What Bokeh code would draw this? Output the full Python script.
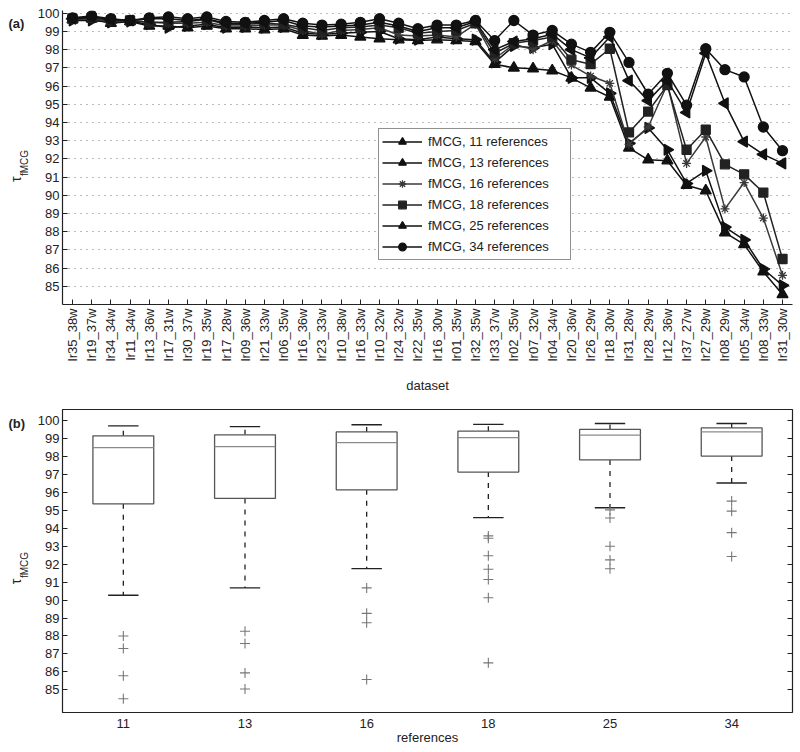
import math
from bokeh.plotting import figure
from bokeh.models import (FixedTicker, Label, Legend, LegendItem, LinearAxis,
                          Range1d, ColumnDataSource)
from bokeh.layouts import column, row
from bokeh.embed import file_html
from bokeh.resources import INLINE

# ---------------- data ----------------
datasets = ["lr35_38w", "lr19_37w", "lr34_34w", "lr11_34w", "lr13_36w", "lr17_31w",
            "lr30_37w", "lr19_35w", "lr17_28w", "lr09_36w", "lr21_33w", "lr06_35w",
            "lr16_36w", "lr23_33w", "lr10_38w", "lr16_33w", "lr10_32w", "lr24_32w",
            "lr22_35w", "lr16_30w", "lr01_35w", "lr32_35w", "lr33_37w", "lr02_35w",
            "lr07_32w", "lr04_34w", "lr20_36w", "lr26_29w", "lr18_30w", "lr31_28w",
            "lr28_29w", "lr12_36w", "lr37_27w", "lr27_29w", "lr08_29w", "lr05_34w",
            "lr08_33w", "lr31_30w"]

ref11 = [99.65, 99.7, 99.45, 99.55, 99.3, 99.3, 99.2, 99.3, 99.15, 99.15, 99.1, 99.15,
         98.8, 98.75, 98.8, 98.7, 98.6, 98.55, 98.5, 98.55, 98.5, 98.45, 97.2, 97.0,
         96.95, 96.85, 96.45, 95.9, 95.4, 92.6, 91.95, 91.9, 90.55, 90.25, 87.95, 87.3,
         85.8, 84.55]
ref13 = [99.6, 99.6, 99.5, 99.55, 99.4, 99.2, 99.3, 99.4, 99.2, 99.25, 99.2, 99.25,
         98.9, 98.85, 98.9, 98.95, 99.0, 98.6, 98.55, 98.7, 98.6, 98.55, 97.3, 98.2,
         98.1, 98.3, 96.45, 96.45, 95.6, 92.85, 93.7, 92.5, 90.65, 91.35, 88.25, 87.55,
         85.95, 85.05]
ref16 = [99.65, 99.7, 99.55, 99.6, 99.5, 99.45, 99.45, 99.5, 99.3, 99.3, 99.35, 99.35,
         99.05, 98.85, 99.05, 99.1, 99.2, 98.8, 98.75, 98.8, 98.7, 99.4, 97.5, 98.3,
         98.0, 98.5, 97.15, 96.55, 96.15, 92.8, 93.75, 96.1, 91.75, 93.2, 89.25, 90.7,
         88.75, 85.6]
ref18 = [99.7, 99.75, 99.6, 99.6, 99.5, 99.5, 99.55, 99.65, 99.4, 99.4, 99.45, 99.4,
         99.2, 99.05, 99.2, 99.25, 99.35, 99.2, 98.9, 99.0, 99.05, 99.45, 97.8, 98.35,
         98.5, 98.7, 97.45, 97.2, 98.05, 93.45, 94.6, 96.05, 92.5, 93.6, 91.7, 91.15,
         90.15, 86.5]
ref25 = [99.7, 99.8, 99.65, 99.6, 99.7, 99.7, 99.6, 99.7, 99.45, 99.45, 99.5, 99.6,
         99.3, 99.25, 99.3, 99.35, 99.5, 99.3, 99.0, 99.2, 99.2, 99.55, 98.0, 98.45,
         98.6, 98.85, 98.0, 97.55, 98.7, 96.3, 95.2, 96.3, 94.55, 97.8, 95.05, 92.95,
         92.25, 91.75]
ref34 = [99.75, 99.85, 99.7, 99.6, 99.75, 99.8, 99.7, 99.8, 99.55, 99.5, 99.6, 99.7,
         99.45, 99.35, 99.4, 99.5, 99.7, 99.45, 99.15, 99.35, 99.35, 99.6, 98.5, 99.6,
         98.8, 99.05, 98.3, 97.85, 98.95, 97.3, 95.55, 96.7, 94.95, 98.05, 96.9, 96.5,
         93.75, 92.45]

y_ticks = [85, 86, 87, 88, 89, 90, 91, 92, 93, 94, 95, 96, 97, 98, 99, 100]

box_refs = ["11", "13", "16", "18", "25", "34"]
box_hi = [99.72, 99.68, 99.78, 99.8, 99.85, 99.85]
box_q3 = [99.16, 99.22, 99.38, 99.42, 99.52, 99.6]
box_med = [98.5, 98.56, 98.78, 99.06, 99.2, 99.38]
box_q1 = [95.37, 95.67, 96.15, 97.14, 97.82, 98.03]
box_lo = [90.27, 90.68, 91.75, 94.6, 95.15, 96.53]
out11 = [88.0, 87.3, 85.78, 84.5]
out13 = [88.26, 87.58, 85.94, 85.04]
out16 = [90.68, 89.26, 88.74, 85.57]
out18 = [93.58, 93.45, 92.47, 91.72, 91.15, 90.13, 86.5]
out25 = [95.03, 94.58, 93.0, 92.24, 91.75]
out34 = [95.52, 94.96, 93.76, 92.43]

FONT = "Liberation Sans"
TXT = "#222222"

HA, HB, LW = 396, 354, 32
B0 = HA                     # page y where panel (b) starts
A_TOP, A_BOT = 10, 306      # page y of panel (a) frame
B_TOP, B_BOT = 409, 712     # page y of panel (b) frame


def label_strip(h, y0, top, bot, tag, tag_y, tau_y, sub_y):
    """Narrow figure left of a panel: its frame spans the same rows as the
    panel's frame, and its y range is in page pixels (downwards)."""
    s = figure(width=LW, height=h, output_backend="svg", toolbar_location=None,
               x_range=Range1d(0, LW), y_range=Range1d(bot, top),
               min_border_left=0, min_border_right=0,
               min_border_top=top - y0, min_border_bottom=h - (bot - y0),
               x_axis_type=None, y_axis_type=None)
    s.outline_line_color = None
    s.grid.visible = False
    s.add_layout(Label(x=8, y=tag_y, text=tag, text_font=FONT, text_font_size="13px",
                       text_font_style="bold", text_color=TXT, text_align="left",
                       text_baseline="middle"))
    s.add_layout(Label(x=15.5, y=tau_y, text="τ", angle=math.pi / 2,
                       text_font=FONT, text_font_size="14px", text_color=TXT,
                       text_align="center", text_baseline="middle"))
    s.add_layout(Label(x=23.5, y=sub_y, text="fMCG", angle=math.pi / 2,
                       text_font=FONT, text_font_size="10px", text_color=TXT,
                       text_align="center", text_baseline="middle"))
    return s


def style_axis(ax):
    ax.minor_tick_line_color = None
    ax.major_tick_out = 0
    ax.major_tick_line_color = "#222222"
    ax.major_label_text_font = FONT
    ax.major_label_text_font_size = "13px"
    ax.major_label_text_color = TXT
    ax.axis_label_text_font = FONT
    ax.axis_label_text_font_size = "13px"
    ax.axis_label_text_font_style = "normal"
    ax.axis_label_text_color = TXT


# ---------------- panel (a) ----------------
xs = list(range(1, len(datasets) + 1))
pa = figure(width=800 - LW, height=HA, output_backend="svg", toolbar_location=None,
            x_range=Range1d(0.48, 38.52), y_range=Range1d(84, 100.15),
            min_border_left=62 - LW, min_border_right=8, min_border_top=A_TOP,
            min_border_bottom=HA - A_BOT)
pa.outline_line_color = None
pa.xgrid.visible = False
pa.ygrid.grid_line_color = "#777777"
pa.ygrid.grid_line_dash = "1 5"
pa.ygrid.grid_line_width = 1

pa.xaxis.ticker = FixedTicker(ticks=xs)
pa.xaxis.major_label_overrides = {x: lab for x, lab in zip(xs, datasets)}
pa.xaxis.major_label_orientation = math.pi / 2
pa.xaxis.axis_label = "dataset"
pa.yaxis.ticker = FixedTicker(ticks=y_ticks)
for ax in (pa.xaxis, pa.yaxis):
    style_axis(ax)
    ax.major_tick_in = 5
    ax.axis_line_color = "#222222"
    ax.axis_line_width = 1.2
pa.xaxis.major_label_standoff = 4
pa.xaxis.axis_label_standoff = 14
pa.yaxis.major_label_standoff = 3

series = [
    (ref11, "fMCG, 11 references", "triangle", 0.0, 11, "#111111"),
    (ref13, "fMCG, 13 references", "triangle", -math.pi / 2, 11, "#111111"),
    (ref16, "fMCG, 16 references", "asterisk", 0.0, 9, "#3a3a3a"),
    (ref18, "fMCG, 18 references", "square", 0.0, 9, "#222222"),
    (ref25, "fMCG, 25 references", "triangle", math.pi / 2, 11, "#111111"),
    (ref34, "fMCG, 34 references", "circle", 0.0, 10, "#111111"),
]
items = []
for vals, lab, mk, ang, sz, col in series:
    src = ColumnDataSource(dict(x=xs, y=vals))
    lr = pa.line("x", "y", source=src, line_color=col, line_width=1.5)
    sr = pa.scatter("x", "y", source=src, marker=mk, angle=ang, size=sz,
                    fill_color=col, line_color=col, line_width=1.3)
    items.append(LegendItem(label=lab, renderers=[lr, sr]))

leg = Legend(items=items, location=(316, 44), border_line_color="#222222",
             border_line_width=1, background_fill_color="white",
             background_fill_alpha=1.0, label_text_font=FONT,
             label_text_font_size="13px", label_text_color=TXT,
             glyph_width=40, glyph_height=19, spacing=2, padding=3,
             label_standoff=6, margin=0, label_width=139)
pa.add_layout(leg)

strip_a = label_strip(HA, 0, A_TOP, A_BOT, "(a)", 22.7, 180, 163.5)

# ---------------- panel (b) ----------------
bx = list(range(1, len(box_refs) + 1))
pb = figure(width=800 - LW, height=HB, output_backend="svg", toolbar_location=None,
            x_range=Range1d(0.5, 6.5), y_range=Range1d(83.73, 100.63),
            min_border_left=62 - LW, min_border_right=8, min_border_top=B_TOP - B0,
            min_border_bottom=HB - (B_BOT - B0))
pb.grid.visible = False
pb.outline_line_color = "#222222"
pb.outline_line_width = 1.2
pb.outline_line_alpha = 1.0

pb.xaxis.ticker = FixedTicker(ticks=bx)
pb.xaxis.major_label_overrides = {x: lab for x, lab in zip(bx, box_refs)}
pb.xaxis.axis_label = "references"
pb.yaxis.ticker = FixedTicker(ticks=y_ticks)
for ax in (pb.xaxis, pb.yaxis):
    style_axis(ax)
    ax.axis_line_color = None
pb.xaxis.major_tick_in = 0
pb.xaxis.major_label_standoff = 6
pb.xaxis.axis_label_standoff = -1
pb.yaxis.major_tick_in = 5
pb.yaxis.major_label_standoff = 3

rax = LinearAxis(ticker=FixedTicker(ticks=y_ticks), major_tick_in=5, major_tick_out=0,
                 minor_tick_line_color=None, axis_line_color=None,
                 major_tick_line_color="#222222",
                 major_label_overrides={t: "" for t in y_ticks},
                 major_label_standoff=0)
pb.add_layout(rax, "right")

half = 0.25
cap = 0.125
bsrc = ColumnDataSource(dict(x=bx, hi=box_hi, q3=box_q3, med=box_med, q1=box_q1, lo=box_lo,
                             l=[v - half for v in bx], r=[v + half for v in bx],
                             cl=[v - cap for v in bx], cr=[v + cap for v in bx]))
pb.segment(x0="x", y0="q3", x1="x", y1="hi", source=bsrc, line_color="#222222",
           line_width=1.3, line_dash="5 6")
pb.segment(x0="x", y0="q1", x1="x", y1="lo", source=bsrc, line_color="#222222",
           line_width=1.3, line_dash="5 6")
pb.segment(x0="cl", y0="hi", x1="cr", y1="hi", source=bsrc, line_color="#222222",
           line_width=1.3)
pb.segment(x0="cl", y0="lo", x1="cr", y1="lo", source=bsrc, line_color="#222222",
           line_width=1.3)
pb.quad(left="l", right="r", bottom="q1", top="q3", source=bsrc, fill_color="white",
        line_color="#555555", line_width=1.3)
pb.segment(x0="l", y0="med", x1="r", y1="med", source=bsrc, line_color="#8a8a8a",
           line_width=1.3)

ox, oy = [], []
for xi, outs in zip(bx, [out11, out13, out16, out18, out25, out34]):
    for v in outs:
        ox.append(xi)
        oy.append(v)
pb.scatter(ox, oy, marker="cross", size=10, line_color="#777777", line_width=1.1)

strip_b = label_strip(HB, B0, B_TOP, B_BOT, "(b)", 423, 581, 564.5)

layout = column(row(strip_a, pa), row(strip_b, pb))
open("out.html", "w").write(file_html(layout, INLINE))
